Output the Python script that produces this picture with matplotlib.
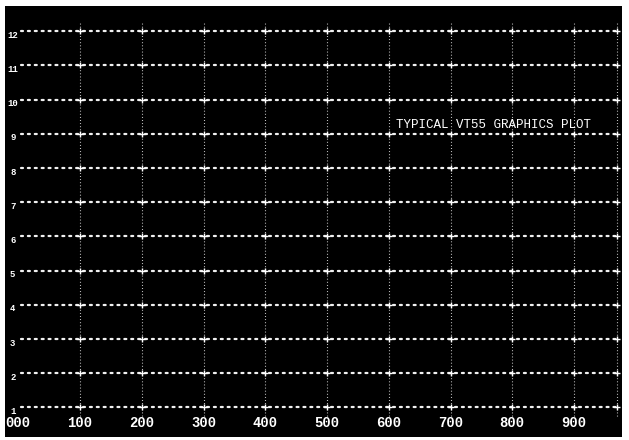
import matplotlib
matplotlib.use("Agg")
import matplotlib.pyplot as plt
import numpy as np

# data
x_ticks = [0, 100, 200, 300, 400, 500, 600, 700, 800, 900]
x_labels = ["000", "100", "200", "300", "400", "500", "600", "700", "800", "900"]
y_ticks = [1, 2, 3, 4, 5, 6, 7, 8, 9, 10, 11, 12]
y_labels = ["1", "2", "3", "4", "5", "6", "7", "8", "9", "10", "11", "12"]
x_grid_end = 970
title_text = "TYPICAL VT55 GRAPHICS PLOT"

fig = plt.figure(figsize=(6.29, 4.40), dpi=100, facecolor="white")
ax = fig.add_axes([5/629, 3/440, 617/629, 431/440])
ax.set_facecolor("black")
ax.set_xlim(-21.5, 977.7)
ax.set_ylim(0.133, 12.735)
for s in ax.spines.values():
    s.set_visible(False)
ax.set_xticks([])
ax.set_yticks([])

# horizontal dotted lines
for y in y_ticks:
    ax.plot([5, x_grid_end], [y, y], color="white", lw=1.6,
            linestyle=(0, (0.9, 2.2)), dash_capstyle="round", alpha=0.95)
# vertical dotted lines
for x in x_ticks[1:] + [x_grid_end]:
    ax.plot([x, x], [0.75, 12.25], color="white", lw=0.8,
            linestyle=(0, (0.8, 2.0)), alpha=0.85)

# intersections
xx, yy = np.meshgrid(x_ticks[1:] + [x_grid_end], y_ticks)
ax.scatter(xx.ravel(), yy.ravel(), marker="+", s=14, color="white", lw=1.0, zorder=3)

mono = "Liberation Mono"
for x, lab in zip(x_ticks, x_labels):
    ax.text(x, 0.55, lab, color="white", fontsize=10, family=mono,
            fontweight="bold", ha="center", va="center")
for y, lab in zip(y_ticks, y_labels):
    ax.text(-9, y - 0.12, lab, color="white", fontsize=6.5, family=mono,
            fontweight="bold", ha="center", va="center")

ax.text(612, 9.26, title_text, color="white", fontsize=9, family=mono,
        ha="left", va="center")

fig.savefig("out.png", dpi=100, facecolor="white")
